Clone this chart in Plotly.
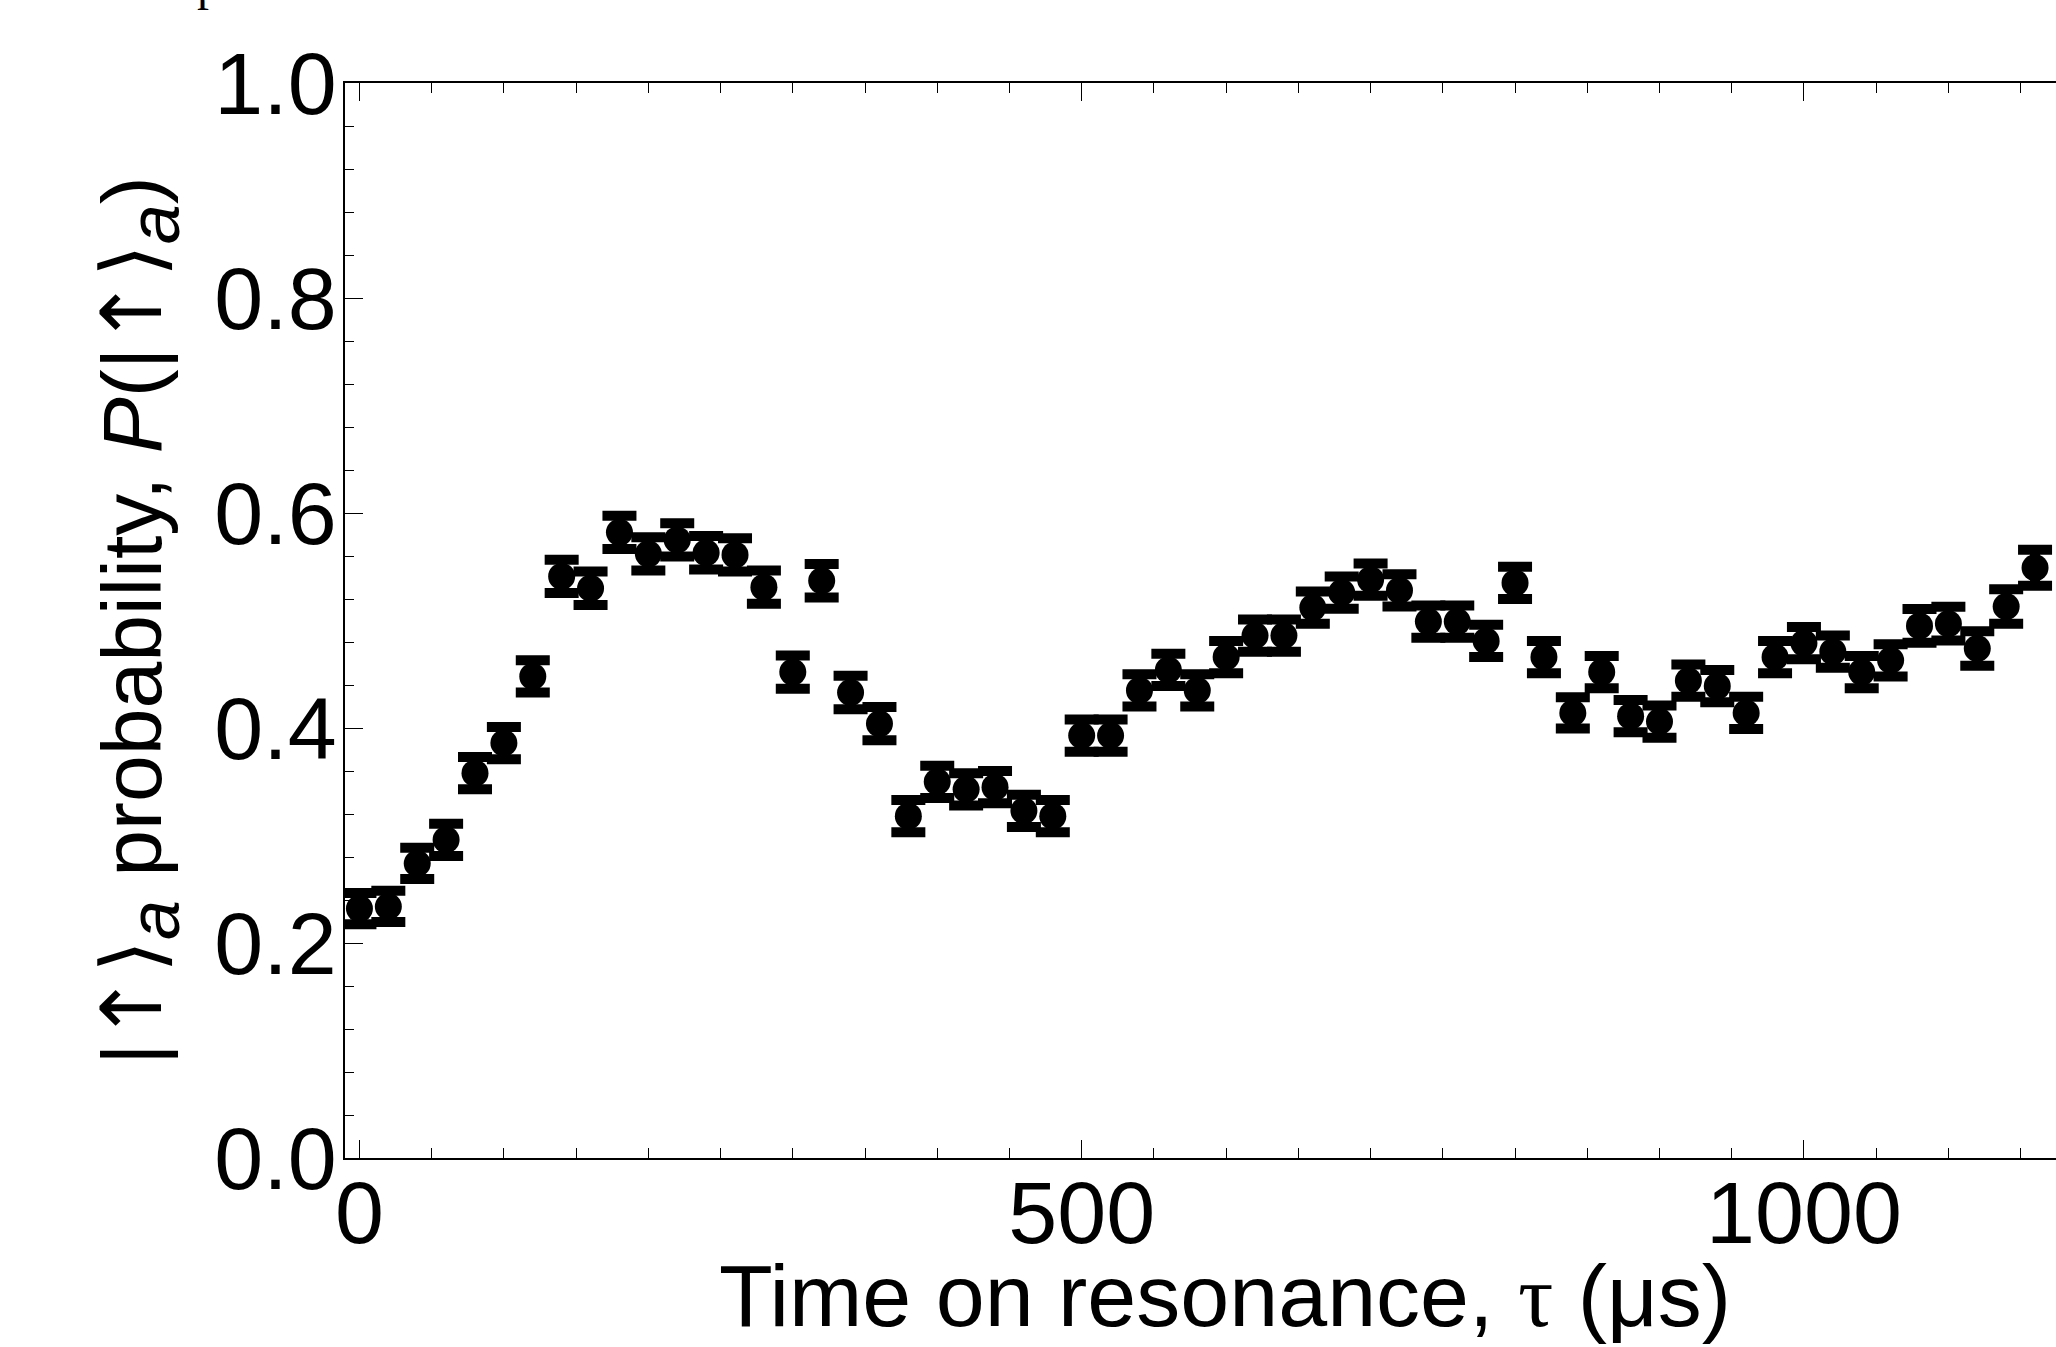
import plotly.graph_objects as go

# ---- data ----
tau_us = [0, 20, 40, 60, 80, 100, 120, 140, 160, 180, 200, 220, 240, 260, 280,
          300, 320, 340, 360, 380, 400, 420, 440, 460, 480, 500, 520, 540, 560,
          580, 600, 620, 640, 660, 680, 700, 720, 740, 760, 780, 800, 820, 840,
          860, 880, 900, 920, 940, 960, 980, 1000, 1020, 1040, 1060, 1080, 1100,
          1120, 1140, 1160]
prob_up = [0.232, 0.234, 0.274, 0.296, 0.358, 0.386, 0.448, 0.541, 0.530, 0.582,
           0.562, 0.575, 0.563, 0.561, 0.531, 0.452, 0.537, 0.433, 0.404, 0.318,
           0.350, 0.343, 0.345, 0.323, 0.318, 0.393, 0.393, 0.435, 0.454, 0.435,
           0.466, 0.486, 0.486, 0.512, 0.526, 0.538, 0.528, 0.499, 0.499, 0.481,
           0.535, 0.466, 0.414, 0.452, 0.411, 0.406, 0.444, 0.439, 0.414, 0.466,
           0.479, 0.471, 0.452, 0.463, 0.495, 0.497, 0.474, 0.513, 0.549]
prob_err = [0.0145, 0.0145, 0.0145, 0.015, 0.015, 0.015, 0.015, 0.0155, 0.0155, 0.0155,
            0.0155, 0.0155, 0.0155, 0.0155, 0.0155, 0.0155, 0.0155, 0.0155, 0.0155, 0.015,
            0.015, 0.015, 0.015, 0.015, 0.015, 0.015, 0.015, 0.015, 0.015, 0.015,
            0.015, 0.015, 0.015, 0.015, 0.015, 0.015, 0.015, 0.015, 0.015, 0.015,
            0.015, 0.015, 0.0145, 0.015, 0.015, 0.015, 0.015, 0.015, 0.015, 0.015,
            0.015, 0.015, 0.015, 0.015, 0.0157, 0.0157, 0.016, 0.016, 0.0167]

y_tick_vals = [0.0, 0.2, 0.4, 0.6, 0.8, 1.0]
y_tick_text = ["0.0", "0.2", "0.4", "0.6", "0.8", "1.0"]
x_tick_vals = [0, 500, 1000]
x_tick_text = ["0", "500", "1000"]

SYM = "font-family:DejaVu Sans"
ket = (f"|<span style='{SYM}'>↑⟩</span>"
       "<sub><span style='font-size:72px'><i>a</i></span></sub>")
x_title = "Time on resonance, <span style='font-family:Liberation Serif'>τ</span> (μs)"
y_title = f"{ket} probability, <i>P</i>({ket})"

W, H = 2056, 1347
L, R, T, B = 345, 0, 83, 189
plot_w = W - L - R
plot_h = H - T - B

def px_to_paper_x(px):
    return (px - L) / plot_w

def px_to_paper_y(py):
    return (H - B - py) / plot_h

FONT = "Liberation Sans, Arial, Helvetica, sans-serif"

fig = go.Figure()
fig.add_trace(go.Scatter(
    x=tau_us, y=prob_up, mode="markers",
    marker=dict(color="black", size=27, symbol="circle", line=dict(width=0)),
    error_y=dict(type="data", array=prob_err, visible=True,
                 color="black", thickness=10, width=17),
    showlegend=False, cliponaxis=False,
))

axis_common = dict(
    showgrid=False, zeroline=False, showline=True, linecolor="black",
    linewidth=1.5, ticks="inside", tickcolor="black", tickwidth=1.2,
    tickfont=dict(family=FONT, size=88, color="black"), automargin=False,
)

fig.update_xaxes(
    range=[-10.0, 1174.5], tickmode="array", tickvals=x_tick_vals,
    ticktext=x_tick_text, ticklen=18, mirror="ticks", ticklabelstandoff=-22,
    minor=dict(dtick=50, tick0=0, ticklen=10, ticks="inside",
               tickcolor="black", tickwidth=1.2, showgrid=False),
    **axis_common,
)
fig.update_yaxes(
    range=[0, 1], tickmode="array", tickvals=y_tick_vals,
    ticktext=y_tick_text, ticklen=18, mirror=False, ticklabelstandoff=-11,
    minor=dict(dtick=0.04, tick0=0, ticklen=9, ticks="inside",
               tickcolor="black", tickwidth=1.2, showgrid=False),
    **axis_common,
)

fig.update_layout(
    width=W, height=H,
    margin=dict(l=L, r=R, t=T, b=B, pad=0, autoexpand=False),
    paper_bgcolor="white", plot_bgcolor="white",
    font=dict(family=FONT, color="black"),
    annotations=[
        dict(text=x_title, xref="paper", yref="paper",
             x=px_to_paper_x(1225), y=px_to_paper_y(1244),
             xanchor="center", yanchor="top", showarrow=False,
             font=dict(family=FONT, size=88, color="black")),
        dict(text=y_title, xref="paper", yref="paper",
             x=px_to_paper_x(138), y=px_to_paper_y(621),
             xanchor="center", yanchor="middle", showarrow=False,
             textangle=-90,
             font=dict(family=FONT, size=84, color="black")),
        dict(text="p", xref="paper", yref="paper",
             x=px_to_paper_x(195), y=px_to_paper_y(12),
             xanchor="left", yanchor="bottom", showarrow=False,
             font=dict(family="Liberation Serif, Times New Roman, serif",
                       size=48, color="black")),
    ],
)

fig.write_html(
    "out.html",
    config={"displayModeBar": False},
    post_script="document.body.style.margin='0';document.body.style.overflow='hidden';",
)
